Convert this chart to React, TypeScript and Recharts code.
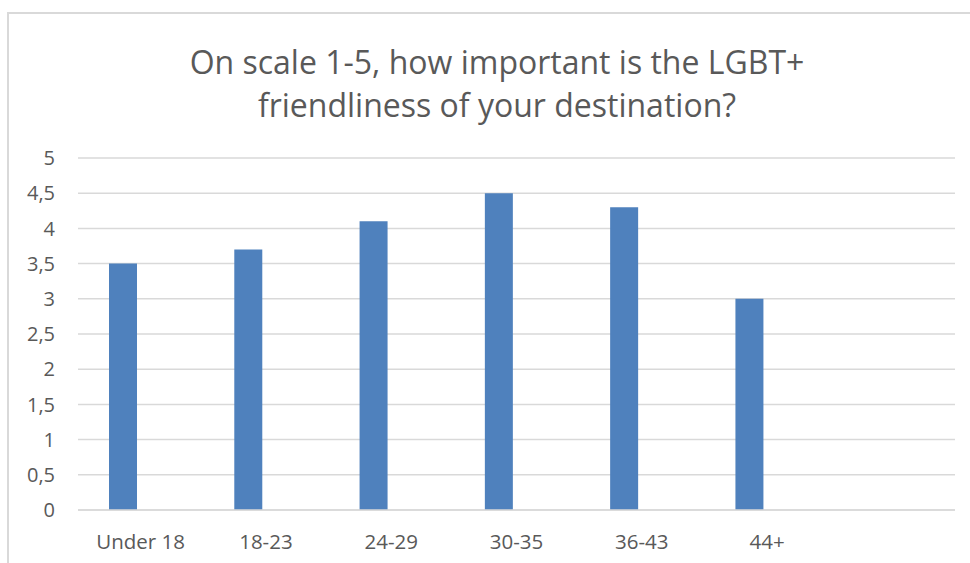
import React from 'react';
import { BarChart, Bar, XAxis, YAxis, CartesianGrid } from 'recharts';

// age groups (the last slot is an empty category kept in the sheet)
const ageGroups = ['Under 18', '18-23', '24-29', '30-35', '36-43', '44+', ''];
const importance: (number | null)[] = [3.5, 3.7, 4.1, 4.5, 4.3, 3.0, null];
// second series exists in the sheet but holds no values
const secondSeries: (number | null)[] = [null, null, null, null, null, null, null];
const yTicks = [0, 0.5, 1, 1.5, 2, 2.5, 3, 3.5, 4, 4.5, 5];

const titleLines = [
  'On scale 1-5, how important is the LGBT+',
  'friendliness of your destination?',
];

const font = '"Open Sans", sans-serif';
const textColor = '#595959';
const gridColor = '#D9D9D9';

const rows = ageGroups.map((group, i) => ({
  group,
  importance: importance[i],
  second: secondSeries[i],
}));

const fmt = (v: number) => String(v).replace('.', ',');

export default function App() {
  return (
    <div
      style={{
        position: 'absolute',
        left: 0,
        top: 0,
        width: 970,
        height: 563,
        overflow: 'hidden',
        background: '#fff',
        fontFamily: font,
      }}
    >
      {/* chart frame: only top and left edges fall inside the view */}
      <div
        style={{
          position: 'absolute',
          left: 7,
          top: 12,
          width: 1000,
          height: 600,
          borderLeft: `2px solid ${gridColor}`,
          borderTop: `2px solid ${gridColor}`,
        }}
      />
      <div
        style={{
          position: 'absolute',
          left: 0,
          top: 40,
          width: 994,
          textAlign: 'center',
          fontSize: 32,
          lineHeight: '43px',
          color: textColor,
        }}
      >
        {titleLines.map((line) => (
          <div key={line}>{line}</div>
        ))}
      </div>
      <div style={{ position: 'absolute', left: 0, top: 0 }}>
        <BarChart
          width={970}
          height={563}
          data={rows}
          margin={{ top: 158, right: 15, bottom: 23, left: 18 }}
          barSize={28}
          barGap={8}
        >
          <CartesianGrid vertical={false} stroke={gridColor} strokeWidth={1.5} />
          <XAxis
            dataKey="group"
            axisLine={{ stroke: gridColor, strokeWidth: 1.5 }}
            tickLine={false}
            tickSize={0}
            tickMargin={24}
            height={30}
            interval={0}
            tick={{ fill: textColor, fontSize: 20.5, fontFamily: font }}
          />
          <YAxis
            width={60}
            domain={[0, 5]}
            ticks={yTicks}
            tickFormatter={fmt}
            axisLine={false}
            tickLine={false}
            tickSize={0}
            tickMargin={23}
            tick={{ fill: textColor, fontSize: 20, fontFamily: font }}
          />
          <Bar dataKey="importance" fill="#4F81BD" isAnimationActive={false} />
          <Bar dataKey="second" fill="#C0504D" isAnimationActive={false} />
        </BarChart>
      </div>
    </div>
  );
}
